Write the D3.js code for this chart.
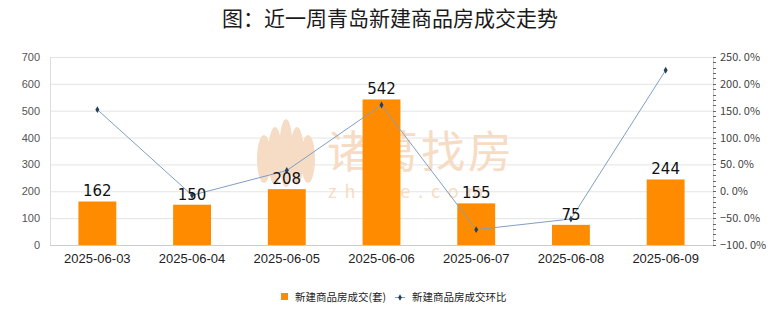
<!DOCTYPE html>
<html><head><meta charset="utf-8">
<script src="https://cdn.jsdelivr.net/npm/d3@7"></script>
<style>body{margin:0;background:#fff;font-family:"Noto Sans CJK SC","Noto Sans",sans-serif;}</style>
</head><body><svg id="c" width="780" height="328"></svg>
<script>
const categories = ["2025-06-03","2025-06-04","2025-06-05","2025-06-06","2025-06-07","2025-06-08","2025-06-09"];
const volumes = [162,150,208,542,155,75,244];
const ratios = [152.0,-7.4,38.7,160.6,-71.4,-51.6,225.3];
const leftTicks = [0,100,200,300,400,500,600,700];
const rightTicks = [-100,-50,0,50,100,150,200,250];
const title = "图：近一周青岛新建商品房成交走势";
const seriesNames = ["新建商品房成交(套)","新建商品房成交环比"];

const svg = d3.select("#c");
const m = {l:50, r:713, t:57, b:245};
const x = d3.scaleBand().domain(categories).range([m.l, m.r]).paddingInner(0.6).paddingOuter(0.3);
const xc = d3.scaleBand().domain(categories).range([m.l, m.r]);
const yL = d3.scaleLinear().domain([0,700]).range([m.b, m.t]);
const yR = d3.scaleLinear().domain([-100,250]).range([m.b, m.t]);

svg.append("text").attr("x",390).attr("y",26).attr("text-anchor","middle")
  .attr("font-size",21).attr("font-weight","normal").attr("fill","#1a1a1a").text(title);

// gridlines
svg.append("g").selectAll("line").data(leftTicks).join("line")
  .attr("x1",m.l).attr("x2",m.r).attr("y1",d=>yL(d)+0.5).attr("y2",d=>yL(d)+0.5)
  .attr("stroke","#e4e4e4");
svg.append("line").attr("x1",m.l+0.5).attr("x2",m.l+0.5).attr("y1",m.t).attr("y2",m.b).attr("stroke","#ddd");

// watermark
const wm = svg.append("g");
wm.append("g").selectAll("ellipse").data([-2,-1,0,1,2]).join("ellipse")
  .attr("cx",d=>286+d*11).attr("cy",d=>153+Math.abs(d)*3).attr("rx",7).attr("ry",d=>34-Math.abs(d)*5)
  .attr("fill","#f6dcc4");
wm.append("text").attr("x",327).attr("y",168).attr("font-size",44)
  .attr("font-weight","normal").attr("fill","#f6dcc4").attr("letter-spacing",3).text("诸葛找房");
wm.append("text").attr("x",328).attr("y",198).attr("font-size",18)
  .attr("letter-spacing",8).attr("fill","#f6dcc4").text("zhuge.com");

// left axis labels
svg.append("g").selectAll("text").data(leftTicks).join("text")
  .attr("x",40).attr("y",d=>yL(d)+4).attr("text-anchor","end").attr("font-size",11)
  .attr("fill","#555").attr("font-family","Liberation Sans, Arial, sans-serif").text(d=>d);

// right axis
svg.append("line").attr("x1",m.r+0.5).attr("x2",m.r+0.5).attr("y1",m.t).attr("y2",m.b).attr("stroke","#ccc");
svg.append("g").selectAll("line").data(d3.range(-100,251,10)).join("line")
  .attr("x1",m.r).attr("x2",m.r+3).attr("y1",d=>Math.round(yR(d))+0.5).attr("y2",d=>Math.round(yR(d))+0.5)
  .attr("stroke","#666");
svg.append("g").selectAll("text").data(rightTicks).join("text")
  .attr("x",720).attr("y",d=>yR(d)+4).attr("font-size",11)
  .attr("fill","#444").text(d=>d3.format(".1f")(d).replace(".",". ")+"%");

// bottom axis
svg.append("line").attr("x1",m.l).attr("x2",m.r).attr("y1",m.b+0.5).attr("y2",m.b+0.5).attr("stroke","#ccc");
svg.append("g").selectAll("text").data(categories).join("text")
  .attr("x",d=>xc(d)+xc.bandwidth()/2).attr("y",263).attr("text-anchor","middle")
  .attr("font-size",13).attr("fill","#222").attr("font-family","Liberation Sans, Arial, sans-serif").text(d=>d);

// bars
svg.append("g").selectAll("rect").data(volumes).join("rect")
  .attr("x",(d,i)=>x(categories[i])).attr("width",x.bandwidth())
  .attr("y",d=>yL(d)).attr("height",d=>yL(0)-yL(d)).attr("fill","#ff8c00");

// line
const line = d3.line().x((d,i)=>xc(categories[i])+xc.bandwidth()/2).y(d=>yR(d));
svg.append("path").attr("d",line(ratios)).attr("fill","none").attr("stroke","#7f9fc2").attr("stroke-width",1);
svg.append("g").selectAll("path").data(ratios).join("path")
  .attr("d",d3.symbol(d3.symbolDiamond,14))
  .attr("transform",(d,i)=>`translate(${xc(categories[i])+xc.bandwidth()/2},${yR(d)})`)
  .attr("fill","#23405f");

// labels
svg.append("g").selectAll("text").data(volumes).join("text")
  .attr("x",(d,i)=>xc(categories[i])+xc.bandwidth()/2).attr("y",d=>yL(d)-5)
  .attr("text-anchor","middle").attr("font-size",15).attr("fill","#111")
  .attr("font-family","DejaVu Sans, sans-serif").text(d=>d);

// legend
svg.append("rect").attr("x",281).attr("y",293).attr("width",7).attr("height",7).attr("fill","#ff8c00");
svg.append("text").attr("x",295).attr("y",301).attr("font-size",10.5).attr("fill","#222").text(seriesNames[0]);
svg.append("line").attr("x1",395).attr("x2",405).attr("y1",297.5).attr("y2",297.5).attr("stroke","#7f9fc2");
svg.append("path").attr("d",d3.symbol(d3.symbolDiamond,12)).attr("transform","translate(400,297.5)").attr("fill","#23405f");
svg.append("text").attr("x",412).attr("y",301).attr("font-size",10.5).attr("fill","#222").text(seriesNames[1]);
</script></body></html>
